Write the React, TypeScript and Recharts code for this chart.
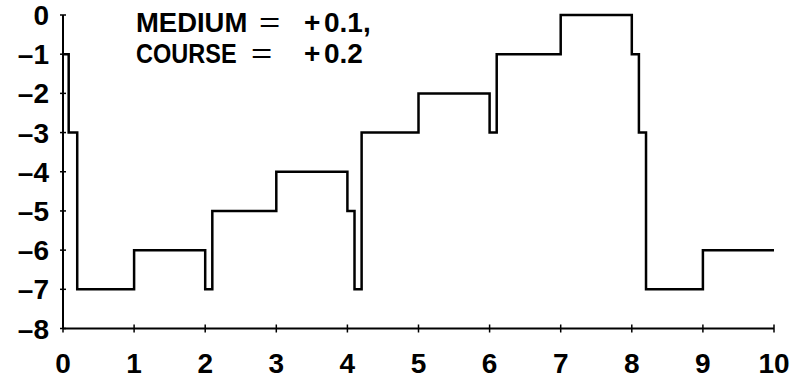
import React from "react";
import { LineChart, Line, XAxis, YAxis } from "recharts";

const stepX = [0, 0.08, 0.2, 1, 2, 2.1, 3, 4, 4.1, 4.2, 5, 6, 6.1, 7, 8, 8.1, 8.2, 9, 10];
const stepY = [-1, -3, -7, -6, -7, -5, -4, -5, -7, -3, -2, -3, -1, 0, -1, -3, -7, -6, -6];
const xTicks = [0, 1, 2, 3, 4, 5, 6, 7, 8, 9, 10];
const yTicks = [0, -1, -2, -3, -4, -5, -6, -7, -8];
const titleLine1 = ["MEDIUM", "=", "+", "0.1,"];
const titleLine2 = ["COURSE", "=", "+", "0.2"];

const data = stepX.map((x, i) => ({ x, y: stepY[i] }));

const FONT = "'Liberation Sans', Arial, Helvetica, sans-serif";
const fmt = (v: number) => (v < 0 ? "\u2013" + Math.abs(v) : String(v));

const YTick = (props: any) => {
  const { x, y, payload } = props;
  return (
    <g>
      <line x1={x - 3} x2={x + 3} y1={y} y2={y} stroke="#000" strokeWidth={1.5} />
      <text x={x - 14} y={y} dy={10} textAnchor="end" fontFamily={FONT} fontWeight="bold" fontSize={28} fill="#000">
        {fmt(payload.value)}
      </text>
    </g>
  );
};

const XTick = (props: any) => {
  const { x, y, payload } = props;
  return (
    <g>
      <line x1={x} x2={x} y1={y - 4} y2={y + 4} stroke="#000" strokeWidth={1.5} />
      <text x={x} y={y} dy={44} textAnchor="middle" fontFamily={FONT} fontWeight="bold" fontSize={28} fill="#000">
        {fmt(payload.value)}
      </text>
    </g>
  );
};

const line1X = [136, 259, 304, 324];
const line2X = [136, 251, 304, 324];
const line1S = [0.98, 1.3, 1, 1];
const line2S = [0.84, 1.3, 1, 1];

export default function App() {
  return (
    <div style={{ position: "fixed", left: 0, top: 0, width: 790, height: 377, background: "#fff" }}>
      <LineChart width={790} height={377} data={data} margin={{ top: 15, right: 16, bottom: 0, left: 0 }}>
        <XAxis
          dataKey="x"
          type="number"
          domain={[0, 10]}
          ticks={xTicks}
          height={48.5}
          tickSize={0}
          tickMargin={0}
          tickLine={false}
          axisLine={{ stroke: "#000", strokeWidth: 2 }}
          tick={<XTick />}
          interval={0}
        />
        <YAxis
          type="number"
          domain={[-8, 0]}
          ticks={yTicks}
          width={63}
          tickSize={0}
          tickMargin={0}
          tickLine={false}
          axisLine={{ stroke: "#000", strokeWidth: 2 }}
          tick={<YTick />}
          interval={0}
        />
        <Line
          dataKey="y"
          type="stepAfter"
          stroke="#000"
          strokeWidth={2.5}
          dot={false}
          isAnimationActive={false}
        />
      </LineChart>
      <svg width={790} height={377} style={{ position: "absolute", left: 0, top: 0, pointerEvents: "none" }}>
        {titleLine1.map((t, i) => (
          <text
            key={"a" + i}
            x={0}
            y={0}
            transform={`translate(${line1X[i]},32) scale(${line1S[i]},1)`}
            fontFamily={FONT}
            fontWeight={t === "=" ? "normal" : "bold"}
            fontSize={28}
            fill="#000"
          >
            {t}
          </text>
        ))}
        {titleLine2.map((t, i) => (
          <text
            key={"b" + i}
            x={0}
            y={0}
            transform={`translate(${line2X[i]},63) scale(${line2S[i]},1)`}
            fontFamily={FONT}
            fontWeight={t === "=" ? "normal" : "bold"}
            fontSize={28}
            fill="#000"
          >
            {t}
          </text>
        ))}
      </svg>
    </div>
  );
}
